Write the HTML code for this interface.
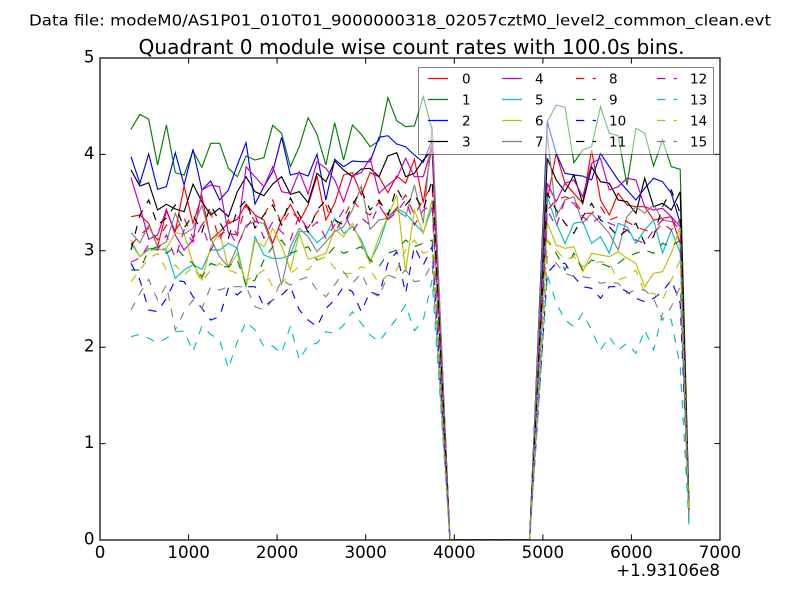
<!DOCTYPE html>
<html>
<head>
<meta charset="utf-8">
<style>
html,body{margin:0;padding:0;background:#fff;}
svg{display:block;}
text{font-family:"DejaVu Sans","Liberation Sans",sans-serif;fill:#000;}
</style>
</head>
<body>
<svg width="800" height="600" viewBox="0 0 800 600" xmlns="http://www.w3.org/2000/svg">
<rect x="0" y="0" width="800" height="600" fill="#fff"/>
<defs><clipPath id="ax"><rect x="100" y="58" width="620" height="482"/></clipPath></defs>

<text x="29" y="25.5" font-size="15.5" textLength="742" lengthAdjust="spacingAndGlyphs">Data file: modeM0/AS1P01_010T01_9000000318_02057cztM0_level2_common_clean.evt</text>
<text x="138.5" y="54" font-size="20" textLength="546" lengthAdjust="spacingAndGlyphs">Quadrant 0 module wise count rates with 100.0s bins.</text>

<g clip-path="url(#ax)" fill="none" stroke-width="1.15" stroke-linejoin="miter">
<polyline stroke="#ff0000" points="131.0,216.7 139.9,215 148.7,223.3 157.6,246.7 166.4,211 175.3,231.7 184.1,186 193.0,223.3 201.9,196 210.7,240 219.6,231.7 228.4,223.3 237.3,219.3 246.1,204 255.0,215 263.9,220 272.7,243.3 281.6,220 290.4,204.3 299.3,221.7 308.1,205 317.0,176 325.9,220 334.7,203.3 343.6,175 352.4,172.7 361.3,195 370.1,172.7 379.0,176.7 387.9,192.7 396.7,176 405.6,183.3 414.4,159.3 423.3,202.7 432.1,143.3 449.9,540 529.6,540 547.3,200 556.2,153.3 565.0,183.3 573.9,193.3 582.7,203.3 591.6,150 600.5,200 609.3,215 618.2,193.3 627.0,205 635.9,206.7 644.7,206.7 653.6,220 662.5,218.3 671.3,216.7 680.2,243.3 689.0,512"/>
<polyline stroke="#008000" points="131.0,129.3 139.9,114.3 148.7,119.3 157.6,165 166.4,125 175.3,172.7 184.1,175 193.0,151 201.9,167.3 210.7,143.3 219.6,143.3 228.4,168.3 237.3,176.7 246.1,156 255.0,160 263.9,157.7 272.7,125.3 281.6,133.3 290.4,166.7 299.3,146.7 308.1,117.7 317.0,134.3 325.9,165 334.7,122.7 343.6,160 352.4,125 361.3,134.3 370.1,146.7 379.0,140.7 387.9,97.7 396.7,120.7 405.6,126.7 414.4,126 423.3,96.7 432.1,130 449.9,540 529.6,540 547.3,121.7 556.2,105 565.0,107.3 573.9,162.7 582.7,150 591.6,146.7 600.5,106.7 609.3,133.3 618.2,136 627.0,185 635.9,128.3 644.7,133.3 653.6,166 662.5,140 671.3,166.7 680.2,169.3 689.0,505"/>
<polyline stroke="#0000ff" points="131.0,156.7 139.9,183.3 148.7,154 157.6,189.3 166.4,186.7 175.3,152.7 184.1,185 193.0,149.3 201.9,190 210.7,181 219.6,200 228.4,190 237.3,165 246.1,142.7 255.0,204 263.9,186.7 272.7,171.7 281.6,137.3 290.4,175 299.3,172.7 308.1,176 317.0,154.3 325.9,200 334.7,159.3 343.6,166.7 352.4,161 361.3,161.7 370.1,161.7 379.0,137.3 387.9,135.7 396.7,144 405.6,146.7 414.4,155 423.3,162.3 432.1,140 449.9,540 529.6,540 547.3,121.7 556.2,153.3 565.0,173.3 573.9,175 582.7,176 591.6,180 600.5,153.3 609.3,166.7 618.2,180 627.0,190 635.9,200 644.7,188.3 653.6,178.3 662.5,181.7 671.3,193.3 680.2,223.3 689.0,510"/>
<polyline stroke="#000000" points="131.0,170 139.9,186 148.7,182.7 157.6,210 166.4,204.3 175.3,209 184.1,211.7 193.0,184.3 201.9,201.7 210.7,215 219.6,208.3 228.4,216.7 237.3,191.7 246.1,176.7 255.0,191.7 263.9,195.7 272.7,184 281.6,176.7 290.4,194.3 299.3,191.7 308.1,202.7 317.0,173.3 325.9,181.7 334.7,161 343.6,170 352.4,176.7 361.3,169 370.1,168.3 379.0,176.7 387.9,156 396.7,152.7 405.6,176.7 414.4,173.3 423.3,160 432.1,150 449.9,540 529.6,540 547.3,158.3 556.2,180 565.0,191.7 573.9,175 582.7,203.3 591.6,166.7 600.5,181.7 609.3,183.3 618.2,200 627.0,201.7 635.9,213.3 644.7,178.3 653.6,206.7 662.5,203.3 671.3,210 680.2,191.7 689.0,508"/>
<polyline stroke="#bf00bf" points="131.0,177.7 139.9,206.7 148.7,239.3 157.6,235 166.4,209.3 175.3,235 184.1,250 193.0,240 201.9,190 210.7,185 219.6,186.7 228.4,233.3 237.3,235 246.1,166.7 255.0,176.7 263.9,186.7 272.7,166.7 281.6,191.7 290.4,193.3 299.3,171.7 308.1,194 317.0,161.7 325.9,168.3 334.7,180 343.6,201.7 352.4,176 361.3,172.7 370.1,158.3 379.0,193.3 387.9,185 396.7,178.3 405.6,158.3 414.4,176.7 423.3,176.7 432.1,146.7 449.9,540 529.6,540 547.3,183.3 556.2,201.7 565.0,183.3 573.9,180 582.7,196.7 591.6,163.3 600.5,158.3 609.3,190 618.2,186.7 627.0,178.3 635.9,180 644.7,206.7 653.6,210 662.5,208.3 671.3,216.7 680.2,226.7 689.0,518"/>
<polyline stroke="#00bfbf" points="131.0,243.3 139.9,256.7 148.7,248.3 157.6,249.3 166.4,250 175.3,278.3 184.1,270 193.0,265 201.9,269.3 210.7,250 219.6,250 228.4,243.3 237.3,248.3 246.1,287.3 255.0,236.7 263.9,255 272.7,258.3 281.6,258.3 290.4,255 299.3,231.7 308.1,231.7 317.0,242.7 325.9,235 334.7,218.3 343.6,233.3 352.4,226.7 361.3,240 370.1,261.7 379.0,243.3 387.9,216.7 396.7,208.3 405.6,213.3 414.4,223.3 423.3,232.7 432.1,206.7 449.9,540 529.6,540 547.3,196.7 556.2,223.3 565.0,243.3 573.9,223.3 582.7,221.7 591.6,243.3 600.5,236.7 609.3,253.3 618.2,223.3 627.0,226.7 635.9,243.3 644.7,230 653.6,220 662.5,253.3 671.3,230 680.2,253 689.0,522"/>
<polyline stroke="#bfbf00" points="131.0,240 139.9,256.7 148.7,250 157.6,250 166.4,248.3 175.3,232.7 184.1,234 193.0,263.3 201.9,280 210.7,246.7 219.6,231.7 228.4,268.3 237.3,253.3 246.1,286 255.0,240.7 263.9,246.7 272.7,228.3 281.6,246 290.4,270 299.3,233.3 308.1,259.3 317.0,256.7 325.9,253.3 334.7,229.3 343.6,236.7 352.4,223.3 361.3,243.3 370.1,263.3 379.0,236.7 387.9,216.7 396.7,195 405.6,271.7 414.4,210 423.3,233.3 432.1,200 449.9,540 529.6,540 547.3,223 556.2,245 565.0,248.3 573.9,246.7 582.7,271.7 591.6,253.3 600.5,255 609.3,256.7 618.2,251.7 627.0,258.3 635.9,263.3 644.7,286.7 653.6,273.3 662.5,271.7 671.3,253.3 680.2,226.7 689.0,515"/>
<polyline stroke="#808080" points="131.0,232.7 139.9,242.7 148.7,225 157.6,246.7 166.4,241.7 175.3,213.3 184.1,234 193.0,228.3 201.9,205 210.7,238.3 219.6,256.7 228.4,266.7 237.3,246.7 246.1,225 255.0,221.7 263.9,223.3 272.7,246.7 281.6,285 290.4,246.7 299.3,228.3 308.1,236.7 317.0,251.7 325.9,241.7 334.7,231.7 343.6,226.7 352.4,210 361.3,186 370.1,229.3 379.0,220 387.9,218.3 396.7,210 405.6,216.7 414.4,185 423.3,223.3 432.1,126.7 449.9,540 529.6,540 547.3,133.3 556.2,216.7 565.0,200 573.9,196.7 582.7,223.3 591.6,213.3 600.5,223.3 609.3,233.3 618.2,250 627.0,216.7 635.9,206.7 644.7,213.3 653.6,205 662.5,220 671.3,221.7 680.2,223.3 689.0,515"/>
<g stroke-dasharray="8.3,8.3">
<polyline stroke="#ff0000" points="131.0,245 139.9,235 148.7,228 157.6,240 166.4,225 175.3,230 184.1,218 193.0,238 201.9,225 210.7,212 219.6,240 228.4,220 237.3,235 246.1,205 255.0,222 263.9,215 272.7,200 281.6,225 290.4,210 299.3,220 308.1,228 317.0,212 325.9,205 334.7,232 343.6,218 352.4,200 361.3,210 370.1,215 379.0,202 387.9,220 396.7,208 405.6,195 414.4,215 423.3,200 432.1,185 449.9,540 529.6,540 547.3,210 556.2,200 565.0,196.7 573.9,200 582.7,213.3 591.6,213.3 600.5,206.7 609.3,220 618.2,216.7 627.0,221.7 635.9,226.7 644.7,230 653.6,233.3 662.5,223.3 671.3,230 680.2,220 689.0,515"/>
<polyline stroke="#008000" points="131.0,270 139.9,270 148.7,250 157.6,246.7 166.4,253.3 175.3,246.7 184.1,256.7 193.0,263.3 201.9,276.7 210.7,263.3 219.6,266.7 228.4,266.7 237.3,260 246.1,285 255.0,280 263.9,260 272.7,246.7 281.6,240 290.4,253.3 299.3,250 308.1,246.7 317.0,260 325.9,256.7 334.7,246.7 343.6,253.3 352.4,250 361.3,246.7 370.1,260 379.0,266.7 387.9,253.3 396.7,250 405.6,240 414.4,246.7 423.3,243.3 432.1,240 449.9,540 529.6,540 547.3,240 556.2,253.3 565.0,270 573.9,253.3 582.7,270 591.6,260 600.5,263.3 609.3,266.7 618.2,263.3 627.0,256.7 635.9,253.3 644.7,250 653.6,253.3 662.5,243.3 671.3,246.7 680.2,240 689.0,512"/>
<polyline stroke="#0000ff" points="131.0,263.3 139.9,280 148.7,310 157.6,311.7 166.4,298.3 175.3,280 184.1,281.7 193.0,296.7 201.9,308.3 210.7,320 219.6,316.7 228.4,288.3 237.3,295 246.1,286.7 255.0,286.7 263.9,306.7 272.7,300 281.6,295 290.4,286.7 299.3,310 308.1,320 317.0,326.7 325.9,308.3 334.7,300 343.6,286.7 352.4,291.7 361.3,311.7 370.1,291.7 379.0,295 387.9,263.3 396.7,251.7 405.6,293.3 414.4,246.7 423.3,265 432.1,246.7 449.9,540 529.6,540 547.3,273 556.2,263.3 565.0,263.3 573.9,276.7 582.7,286.7 591.6,288.3 600.5,298.3 609.3,286.7 618.2,286.7 627.0,291.7 635.9,298.3 644.7,301.7 653.6,298.3 662.5,291.7 671.3,280 680.2,303 689.0,515"/>
<polyline stroke="#000000" points="131.0,250 139.9,215 148.7,200 157.6,225 166.4,218 175.3,205 184.1,228 193.0,215 201.9,232 210.7,205 219.6,222 228.4,238 237.3,210 246.1,200 255.0,228 263.9,215 272.7,205 281.6,225 290.4,198 299.3,215 308.1,232 317.0,210 325.9,200 334.7,220 343.6,225 352.4,205 361.3,190 370.1,210 379.0,200 387.9,215 396.7,188 405.6,205 414.4,195 423.3,210 432.1,180 449.9,540 529.6,540 547.3,193.3 556.2,210 565.0,223.3 573.9,233.3 582.7,216.7 591.6,203.3 600.5,220 609.3,226.7 618.2,236.7 627.0,230 635.9,223.3 644.7,243.3 653.6,236.7 662.5,206.7 671.3,190 680.2,213.3 689.0,510"/>
<polyline stroke="#bf00bf" points="131.0,262 139.9,258 148.7,245 157.6,250 166.4,235 175.3,258 184.1,230 193.0,242 201.9,225 210.7,250 219.6,235 228.4,230 237.3,245 246.1,228 255.0,215 263.9,238 272.7,222 281.6,232 290.4,240 299.3,215 308.1,230 317.0,222 325.9,238 334.7,225 343.6,210 352.4,232 361.3,218 370.1,225 379.0,205 387.9,220 396.7,212 405.6,200 414.4,225 423.3,210 432.1,205 449.9,540 529.6,540 547.3,210 556.2,226.7 565.0,200 573.9,203.3 582.7,216.7 591.6,223.3 600.5,216.7 609.3,223.3 618.2,226.7 627.0,230 635.9,240 644.7,243.3 653.6,230 662.5,220 671.3,220 680.2,230 689.0,518"/>
<polyline stroke="#00bfbf" points="131.0,336.7 139.9,334.3 148.7,338.3 157.6,342.7 166.4,338.3 175.3,331.7 184.1,331 193.0,351.7 201.9,326 210.7,334.3 219.6,340 228.4,368.3 237.3,341.7 246.1,321.7 255.0,330 263.9,346.7 272.7,346 281.6,353.3 290.4,326 299.3,360 308.1,345 317.0,343.3 325.9,331.7 334.7,333.3 343.6,325 352.4,311.7 361.3,323.3 370.1,335 379.0,341.7 387.9,330 396.7,318.3 405.6,305 414.4,330.7 423.3,320 432.1,280 449.9,540 529.6,540 547.3,275 556.2,303 565.0,320 573.9,326.7 582.7,313.3 591.6,330 600.5,350 609.3,336.7 618.2,350 627.0,343.3 635.9,353.3 644.7,330 653.6,350 662.5,313.3 671.3,320 680.2,366.7 689.0,525"/>
<polyline stroke="#bfbf00" points="131.0,281.7 139.9,270 148.7,258.3 157.6,253.3 166.4,270 175.3,265 184.1,275 193.0,266.7 201.9,281.7 210.7,270 219.6,263.3 228.4,270 237.3,273.3 246.1,280 255.0,276.7 263.9,270 272.7,286.7 281.6,283.3 290.4,273.3 299.3,266.7 308.1,270 317.0,260 325.9,256.7 334.7,268.3 343.6,273.3 352.4,273.3 361.3,266.7 370.1,270 379.0,283.3 387.9,275 396.7,270 405.6,250 414.4,240 423.3,253.3 432.1,250 449.9,540 529.6,540 547.3,240 556.2,250 565.0,260 573.9,256.7 582.7,266.7 591.6,263.3 600.5,261.7 609.3,263.3 618.2,280 627.0,276.7 635.9,270 644.7,293.3 653.6,293.3 662.5,300 671.3,280 680.2,260 689.0,515"/>
<polyline stroke="#808080" points="131.0,310 139.9,293.3 148.7,279.3 157.6,300 166.4,285 175.3,330 184.1,311.7 193.0,300 201.9,308.3 210.7,286.7 219.6,290 228.4,286.7 237.3,286.7 246.1,286.7 255.0,306.7 263.9,310 272.7,300 281.6,280 290.4,285 299.3,280 308.1,276.7 317.0,290 325.9,296.7 334.7,285 343.6,271.7 352.4,283.3 361.3,273.3 370.1,291.7 379.0,296.7 387.9,275 396.7,278.3 405.6,270 414.4,281.7 423.3,280 432.1,263.3 449.9,540 529.6,540 547.3,256.7 556.2,263.3 565.0,273.3 573.9,276.7 582.7,276.7 591.6,278.3 600.5,283.3 609.3,281.7 618.2,283.3 627.0,293.3 635.9,290 644.7,290 653.6,298.3 662.5,320 671.3,306.7 680.2,286.7 689.0,518"/>
</g>
</g>

<!-- axes frame -->
<rect x="100" y="58" width="620" height="482" fill="none" stroke="#000" stroke-width="1.2"/>
<!-- ticks -->
<g stroke="#000" stroke-width="1">
<path d="M188.6,540V534.4M277.1,540V534.4M365.7,540V534.4M454.3,540V534.4M542.9,540V534.4M631.4,540V534.4"/>
<path d="M188.6,58V63.6M277.1,58V63.6M365.7,58V63.6M454.3,58V63.6M542.9,58V63.6M631.4,58V63.6"/>
<path d="M100,443.6H105.6M100,347.2H105.6M100,250.8H105.6M100,154.4H105.6"/>
<path d="M720,443.6H714.4M720,347.2H714.4M720,250.8H714.4M720,154.4H714.4"/>
</g>

<!-- tick labels -->
<g font-size="16.7" text-anchor="middle">
<text x="100" y="558">0</text>
<text x="188.6" y="558">1000</text>
<text x="277.1" y="558">2000</text>
<text x="365.7" y="558">3000</text>
<text x="454.3" y="558">4000</text>
<text x="542.9" y="558">5000</text>
<text x="631.4" y="558">6000</text>
<text x="720" y="558">7000</text>
</g>
<g font-size="16.7" text-anchor="end">
<text x="94.5" y="544.5">0</text>
<text x="94.5" y="448.1">1</text>
<text x="94.5" y="351.7">2</text>
<text x="94.5" y="255.3">3</text>
<text x="94.5" y="158.9">4</text>
<text x="94.5" y="62.5">5</text>
<text x="720" y="576">+1.93106e8</text>
</g>

<!-- legend -->
<rect x="418.5" y="67.5" width="295" height="87" fill="#fff" fill-opacity="0.5" stroke="#000" stroke-opacity="0.5" stroke-width="1"/>
<g stroke-width="1.15" fill="none">
<line x1="428" y1="78.5" x2="448" y2="78.5" stroke="#ff0000"/>
<line x1="428" y1="99.5" x2="448" y2="99.5" stroke="#008000"/>
<line x1="428" y1="120.5" x2="448" y2="120.5" stroke="#0000ff"/>
<line x1="428" y1="141.5" x2="448" y2="141.5" stroke="#000000"/>
<line x1="502" y1="78.5" x2="522" y2="78.5" stroke="#bf00bf"/>
<line x1="502" y1="99.5" x2="522" y2="99.5" stroke="#00bfbf"/>
<line x1="502" y1="120.5" x2="522" y2="120.5" stroke="#bfbf00"/>
<line x1="502" y1="141.5" x2="522" y2="141.5" stroke="#808080"/>
<g stroke-dasharray="8.3,8.3">
<line x1="576" y1="78.5" x2="596" y2="78.5" stroke="#ff0000"/>
<line x1="576" y1="99.5" x2="596" y2="99.5" stroke="#008000"/>
<line x1="576" y1="120.5" x2="596" y2="120.5" stroke="#0000ff"/>
<line x1="576" y1="141.5" x2="596" y2="141.5" stroke="#000000"/>
<line x1="657" y1="78.5" x2="677" y2="78.5" stroke="#bf00bf"/>
<line x1="657" y1="99.5" x2="677" y2="99.5" stroke="#00bfbf"/>
<line x1="657" y1="120.5" x2="677" y2="120.5" stroke="#bfbf00"/>
<line x1="657" y1="141.5" x2="677" y2="141.5" stroke="#808080"/>
</g>
</g>
<g font-size="13.5">
<text x="462" y="83.5">0</text>
<text x="462" y="104.5">1</text>
<text x="462" y="125.5">2</text>
<text x="462" y="146.5">3</text>
<text x="535" y="83.5">4</text>
<text x="535" y="104.5">5</text>
<text x="535" y="125.5">6</text>
<text x="535" y="146.5">7</text>
<text x="609" y="83.5">8</text>
<text x="609" y="104.5">9</text>
<text x="609" y="125.5">10</text>
<text x="609" y="146.5">11</text>
<text x="690" y="83.5">12</text>
<text x="690" y="104.5">13</text>
<text x="690" y="125.5">14</text>
<text x="690" y="146.5">15</text>
</g>
</svg>
</body>
</html>
